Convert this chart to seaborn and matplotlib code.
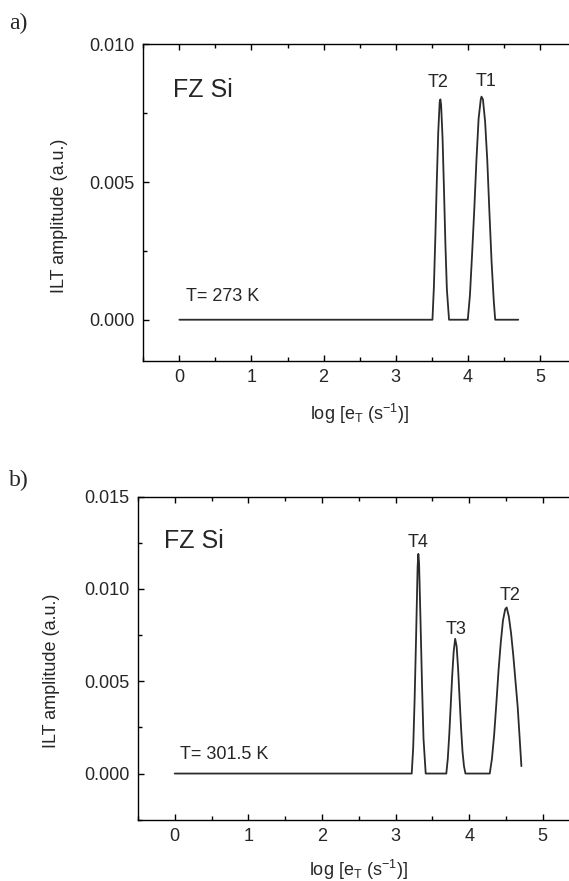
"""
ILT spectra of FZ Si at two temperatures (panels a and b)
"""

import pandas as pd
import matplotlib
matplotlib.use("Agg")
import matplotlib.pyplot as plt
from matplotlib.ticker import AutoMinorLocator, MultipleLocator
import seaborn as sns

# ---- data ----
# panel a, T = 273 K
a_log_e = [0.00, 3.51, 3.53, 3.55, 3.57, 3.59, 3.61, 3.62, 3.63, 3.65, 3.67, 3.69, 3.71, 3.74,
           4.00, 4.03, 4.06, 4.09, 4.12, 4.15, 4.18, 4.19, 4.21, 4.24, 4.27, 4.30, 4.33, 4.36, 4.38,
           4.70]
a_amp = [0.0, 0.0, 0.0012, 0.0030, 0.0050, 0.0068, 0.0079, 0.0080, 0.0078, 0.0066, 0.0047, 0.0027, 0.0011, 0.0,
         0.0, 0.0009, 0.0024, 0.0040, 0.0058, 0.0073, 0.0080, 0.0081, 0.0080, 0.0072, 0.0058, 0.0039, 0.0021, 0.0007, 0.0,
         0.0]
a_peaks = ["T2", "T1"]
a_peak_x = [3.59, 4.26]
a_peak_y = [0.00844, 0.00849]

# panel b, T = 301.5 K
b_log_e = [0.00, 3.22, 3.24, 3.26, 3.28, 3.30, 3.31, 3.32, 3.34, 3.36, 3.38, 3.41,
           3.69, 3.71, 3.73, 3.75, 3.77, 3.79, 3.81, 3.83, 3.85, 3.87, 3.89, 3.91, 3.93, 3.95,
           4.28, 4.31, 4.34, 4.37, 4.40, 4.43, 4.46, 4.49, 4.51, 4.54, 4.57, 4.60, 4.63, 4.66, 4.69, 4.71]
b_amp = [0.0, 0.0, 0.0014, 0.0041, 0.0075, 0.0112, 0.0119, 0.0114, 0.0082, 0.0048, 0.0019, 0.0,
         0.0, 0.0008, 0.0021, 0.0037, 0.0053, 0.0066, 0.0073, 0.0069, 0.0057, 0.0041, 0.0025, 0.0012, 0.0004, 0.0,
         0.0, 0.0008, 0.0021, 0.0038, 0.0056, 0.0071, 0.0083, 0.0089, 0.0090, 0.0085, 0.0076, 0.0064, 0.0050,
         0.0036, 0.0017, 0.0004]
b_peaks = ["T4", "T3", "T2"]
b_peak_x = [3.31, 3.82, 4.56]
b_peak_y = [0.01226, 0.00755, 0.0094]

sns.set_style("ticks")
plt.rcParams['font.family'] = ['Liberation Sans', 'DejaVu Sans']
plt.rcParams['mathtext.fontset'] = 'custom'
plt.rcParams['mathtext.rm'] = 'Liberation Sans'
plt.rcParams['mathtext.it'] = 'Liberation Sans:italic'
plt.rcParams['font.size'] = 13

LINE = '#2b2b2b'
XLABEL = r'log [e$_\mathrm{T}$ (s$^{\mathrm{-1}}$)]'
YLABEL = 'ILT amplitude (a.u.)'

fig = plt.figure(figsize=(5.69, 8.81), dpi=100)
ax_a = fig.add_axes([0.2519, 0.5902, 0.7603, 0.3595])
ax_b = fig.add_axes([0.2424, 0.0696, 0.7761, 0.3666])


def style_axis(ax, ylim, ystep):
    ax.set_xlim(-0.5, 5.5)
    ax.set_ylim(*ylim)
    ax.xaxis.set_major_locator(MultipleLocator(1))
    ax.yaxis.set_major_locator(MultipleLocator(ystep))
    ax.xaxis.set_minor_locator(AutoMinorLocator(2))
    ax.yaxis.set_minor_locator(AutoMinorLocator(2))
    ax.yaxis.set_major_formatter(plt.FormatStrFormatter('%.3f'))
    ax.tick_params(which='both', direction='in', top=True, right=True,
                   color='black', width=1.0, labelsize=13)
    ax.tick_params(which='major', length=4.5, pad=6)
    ax.tick_params(which='minor', length=3)
    for s in ax.spines.values():
        s.set_color('black')
        s.set_linewidth(1.0)
    ax.set_xlabel(XLABEL, fontsize=13)
    ax.set_ylabel(YLABEL, fontsize=13)


# panel a
df_a = pd.DataFrame({'log_e': a_log_e, 'amp': a_amp})
sns.lineplot(data=df_a, x='log_e', y='amp', ax=ax_a, color=LINE, linewidth=1.3,
             estimator=None, sort=False)
style_axis(ax_a, (-0.0015, 0.010), 0.005)
ax_a.xaxis.set_label_coords(0.499, -0.128)
ax_a.yaxis.set_label_coords(-0.175, 0.458)
ax_a.text(-0.09, 0.00808, 'FZ Si', fontsize=18, ha='left', va='baseline')
ax_a.text(0.085, 0.00069, 'T= 273 K', fontsize=13, ha='left', va='baseline')
for name, px, py in zip(a_peaks, a_peak_x, a_peak_y):
    ax_a.text(px, py, name, fontsize=13, ha='center', va='baseline')

# panel b
df_b = pd.DataFrame({'log_e': b_log_e, 'amp': b_amp})
sns.lineplot(data=df_b, x='log_e', y='amp', ax=ax_b, color=LINE, linewidth=1.3,
             estimator=None, sort=False)
style_axis(ax_b, (-0.0025, 0.015), 0.005)
ax_b.xaxis.set_label_coords(0.5007, -0.117)
ax_b.yaxis.set_label_coords(-0.176, 0.461)
ax_b.text(-0.15, 0.0122, 'FZ Si', fontsize=18, ha='left', va='baseline')
ax_b.text(0.07, 0.00081, 'T= 301.5 K', fontsize=13, ha='left', va='baseline')
for name, px, py in zip(b_peaks, b_peak_x, b_peak_y):
    ax_b.text(px, py, name, fontsize=13, ha='center', va='baseline')

# panel letters
fig.text(0.016, 0.967, 'a)', fontsize=17, family='Liberation Serif', va='baseline')
fig.text(0.016, 0.4484, 'b)', fontsize=17, family='Liberation Serif', va='baseline')

plt.savefig('out.png', dpi=100)
plt.close()
